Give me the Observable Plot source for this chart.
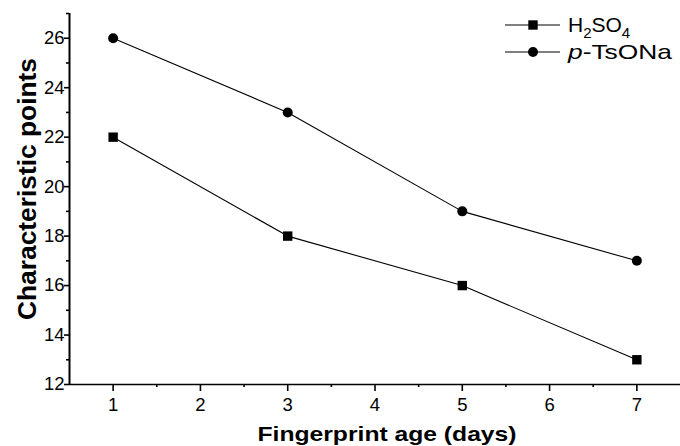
<!DOCTYPE html>
<html>
<head>
<meta charset="utf-8">
<script src="https://cdn.jsdelivr.net/npm/d3@7"></script>
<script src="https://cdn.jsdelivr.net/npm/@observablehq/plot@0.6"></script>
<style>
  html, body { margin: 0; padding: 0; background: white; }
</style>
</head>
<body>
<div id="chart"></div>
<script>
// ---- data ----
const days = [1, 3, 5, 7];
const h2so4 = [22, 18, 16, 13];
const tsona = [26, 23, 19, 17];
const seriesNames = ["H2SO4", "p-TsONa"];
const xTicks = [1, 2, 3, 4, 5, 6, 7];
const xMinorTicks = [1.5, 2.5, 3.5, 4.5, 5.5, 6.5];
const yTicks = [12, 14, 16, 18, 20, 22, 24, 26];
const yMinorTicks = [13, 15, 17, 19, 21, 23, 25, 27];
const xTitle = "Fingerprint age (days)";
const yTitle = "Characteristic points";

const rowsH = days.map((d, i) => ({day: d, value: h2so4[i], series: seriesNames[0]}));
const rowsT = days.map((d, i) => ({day: d, value: tsona[i], series: seriesNames[1]}));
const rows = rowsH.concat(rowsT);

const font = "'Liberation Sans', Arial, Helvetica, sans-serif";

const chart = Plot.plot({
  width: 680,
  height: 446,
  marginLeft: 69,
  marginRight: 0,
  marginTop: 13,
  marginBottom: 62,
  style: {fontFamily: font, background: "white", color: "black", overflow: "visible"},
  x: {domain: [0.5, 7.5], axis: null},
  y: {domain: [12, 27], axis: null},
  marks: [
    Plot.ruleY([12], {stroke: "black", strokeWidth: 1.6}),
    Plot.ruleX([0.5], {stroke: "black", strokeWidth: 2}),
    Plot.axisX({ticks: xTicks, tickSize: 7, tickPadding: 6, fontSize: 18.5, stroke: "black", fill: "black", strokeWidth: 1.6, strokeOpacity: 1, label: null, tickFormat: d => String(d)}),
    Plot.axisX({ticks: xMinorTicks, tickSize: 3, stroke: "black", strokeWidth: 1.6, strokeOpacity: 1, label: null, tickFormat: () => ""}),
    Plot.axisY({ticks: yTicks, tickSize: 5, tickPadding: 0, fontSize: 18.5, stroke: "black", fill: "black", strokeWidth: 1.6, strokeOpacity: 1, label: null, tickFormat: d => String(d)}),
    Plot.axisY({ticks: yMinorTicks, tickSize: 3, stroke: "black", strokeWidth: 1.6, strokeOpacity: 1, label: null, tickFormat: () => ""}),
    Plot.line(rows, {x: "day", y: "value", z: "series", stroke: "black", strokeWidth: 1.1}),
    Plot.dot(rowsH, {x: "day", y: "value", symbol: "square", r: 5.3, fill: "black", stroke: "none"}),
    Plot.dot(rowsT, {x: "day", y: "value", symbol: "circle", r: 5, fill: "black", stroke: "none"}),
    Plot.text([xTitle], {frameAnchor: "bottom", dx: 12, dy: 56, fontSize: 21, fontWeight: "bold", lineAnchor: "bottom", textAnchor: "middle", fill: "black"}),
    Plot.text([yTitle], {frameAnchor: "left", dx: -34, dy: -10, rotate: -90, fontSize: 25, fontWeight: "bold", lineAnchor: "bottom", textAnchor: "middle", fill: "black"})
  ]
});

document.getElementById("chart").appendChild(chart);

const svg = d3.select(chart);
svg.selectAll("text").each(function() {
  const s = d3.select(this);
  if (s.text() === xTitle) s.attr("textLength", 259).attr("lengthAdjust", "spacingAndGlyphs");
  if (s.text() === yTitle) s.attr("textLength", 262).attr("lengthAdjust", "spacingAndGlyphs");
});

// ---- legend (layout only) ----
const legend = svg.append("g").attr("aria-label", "legend")
  .attr("font-family", font).attr("text-anchor", "start");
const legendRows = [
  {name: seriesNames[0], symbol: d3.symbolSquare, size: Math.PI * 5.3 * 5.3, y: 25},
  {name: seriesNames[1], symbol: d3.symbolCircle, size: Math.PI * 5 * 5, y: 52}
];
legendRows.forEach((r, i) => {
  const g = legend.append("g");
  g.append("line").attr("x1", 505).attr("x2", 560).attr("y1", r.y).attr("y2", r.y)
    .attr("stroke", "black").attr("stroke-width", 1.1);
  g.append("path").attr("d", d3.symbol(r.symbol, r.size)())
    .attr("transform", `translate(533,${r.y})`).attr("fill", "black");
  const t = g.append("text").attr("x", 568).attr("y", r.y + 7).attr("font-size", 21)
    .attr("fill", "black").attr("text-anchor", "start");
  if (i === 0) {
    const m = r.name.match(/^(H)(2)(SO)(4)$/);
    t.append("tspan").text(m[1]);
    t.append("tspan").attr("font-size", 15).attr("dy", 6).text(m[2]);
    t.append("tspan").attr("dy", -6).text(m[3]);
    t.append("tspan").attr("font-size", 15).attr("dy", 6).text(m[4]);
  } else {
    t.append("tspan").attr("font-style", "italic").text(r.name.slice(0, 1));
    t.append("tspan").text(r.name.slice(1));
    t.attr("textLength", 104).attr("lengthAdjust", "spacingAndGlyphs");
  }
});
</script>
</body>
</html>
